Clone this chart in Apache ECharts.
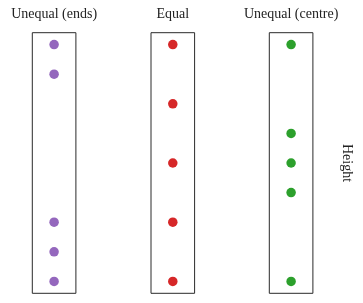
<!DOCTYPE html>
<html>
<head>
<meta charset="utf-8">
<script src="https://cdn.jsdelivr.net/npm/echarts@6/dist/echarts.min.js"></script>
<style>html,body{margin:0;padding:0;background:#fff}#c{width:363px;height:303px}</style>
</head>
<body>
<div id="c"></div>
<script>
const panelTitles = ['Unequal (ends)', 'Equal', 'Unequal (centre)'];
const endsValues = [0, 0.5, 1, 3.5, 4];
const equalValues = [0, 1, 2, 3, 4];
const centreValues = [0, 1.5, 2, 2.5, 4];
const colors = ['#9467bd', '#d62728', '#2ca02c'];
const yName = 'Height';

const allValues = [endsValues, equalValues, centreValues];
const lefts = [32.3, 151, 269.3];
const font = 'Liberation Serif';
const chart = echarts.init(document.getElementById('c'), null, {renderer: 'canvas'});
const grids = [], xAxes = [], yAxes = [], series = [];
allValues.forEach((vals, i) => {
  grids.push({left: lefts[i], top: 32.7, width: 43.6, height: 260.6, show: true,
    borderColor: '#2a2a2a', borderWidth: 1, backgroundColor: 'transparent', containLabel: false});
  xAxes.push({type: 'category', gridIndex: i, data: ['a'], position: 'top',
    name: panelTitles[i], nameLocation: 'middle', nameGap: 11,
    nameTextStyle: {fontFamily: font, fontSize: 14, color: '#222'},
    axisLine: {show: false}, axisTick: {show: false}, axisLabel: {show: false}, splitLine: {show: false}});
  yAxes.push({type: 'value', gridIndex: i, min: -0.2, max: 4.2, position: 'right',
    name: i === 2 ? yName : '', nameLocation: 'middle', nameGap: 27, nameRotate: -90,
    nameTextStyle: {fontFamily: font, fontSize: 14, color: '#222'},
    axisLine: {show: false}, axisTick: {show: false}, axisLabel: {show: false}, splitLine: {show: false}});
  series.push({type: 'scatter', xAxisIndex: i, yAxisIndex: i, symbolSize: 9.5,
    itemStyle: {color: colors[i], opacity: 1}, data: vals.map(v => ['a', v]), silent: true});
});
chart.setOption({animation: false, grid: grids, xAxis: xAxes, yAxis: yAxes, series: series});
</script>
</body>
</html>
